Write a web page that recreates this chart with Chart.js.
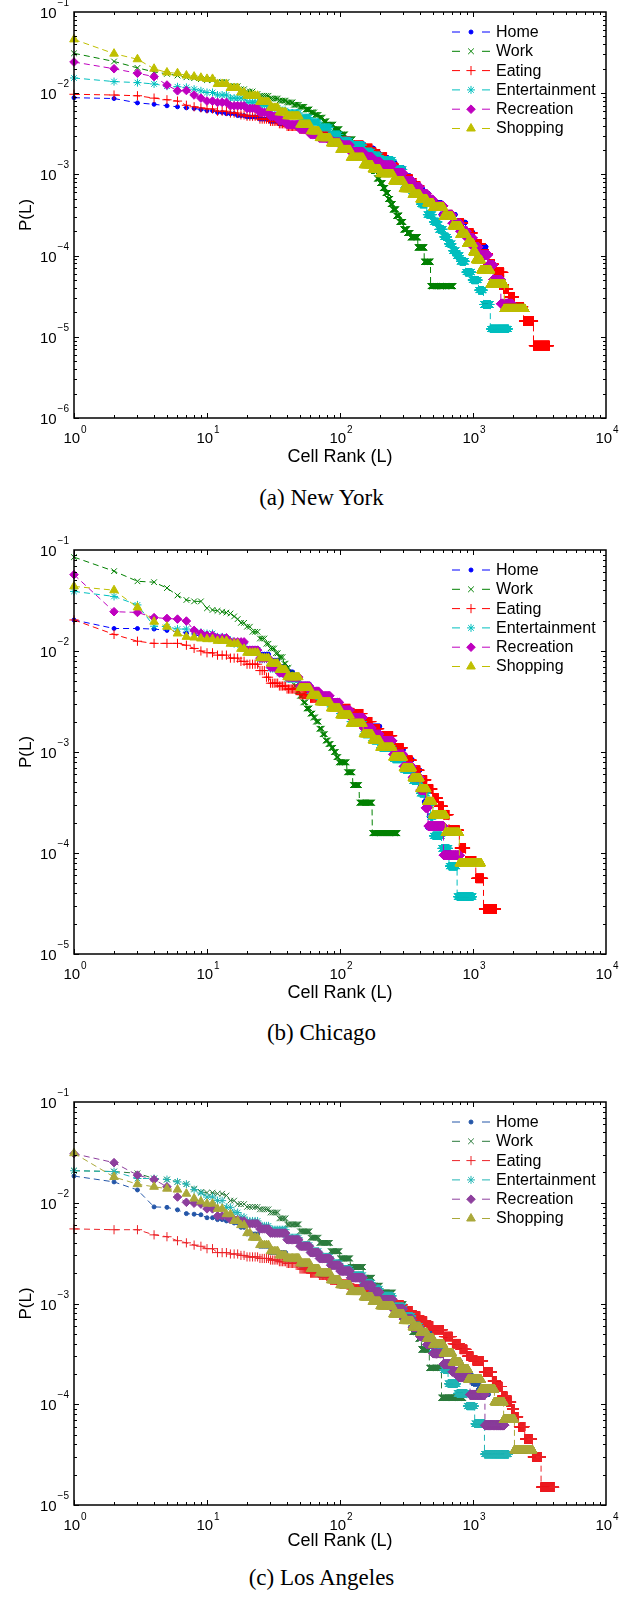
<!DOCTYPE html>
<html><head><meta charset="utf-8">
<script src="https://cdn.jsdelivr.net/npm/chart.js@4.4.0/dist/chart.umd.min.js"></script>
<style>
body{margin:0;width:643px;height:1598px;position:relative;background:#fff;overflow:hidden}
canvas{position:absolute;left:0}
.cap{position:absolute;left:0;width:643px;text-align:center;font-family:"Liberation Serif",serif;font-size:23px;line-height:24px;color:#000}
</style></head><body>
<canvas id="c1" width="643" height="480" style="top:0px"></canvas>
<canvas id="c2" width="643" height="480" style="top:530px"></canvas>
<canvas id="c3" width="643" height="480" style="top:1080px"></canvas>
<div class="cap" style="top:486px">(a) New York</div>
<div class="cap" style="top:1021px">(b) Chicago</div>
<div class="cap" style="top:1566px">(c) Los Angeles</div>
<script>
// ---------- categories & tick labels ----------
const categories = ['Home','Work','Eating','Entertainment','Recreation','Shopping'];
const xTickExp = [0,1,2,3,4];
const nyYTickExp = [-6,-5,-4,-3,-2,-1];
const chYTickExp = [-5,-4,-3,-2,-1];
const laYTickExp = [-5,-4,-3,-2,-1];

// ---------- data: [rank where value starts, P(L)] ; value holds until next rank ----------
// New York
const nyHome = [[1,.0088],[2,.0086],[3,.0076],[4,.0073],[5,.0070],[6,.0068],[7,.0066],[8,.0065],[9,.0063],[10,.0061],[12,.0058],[14,.0056],[17,.0053],[20,.0051],[25,.0048],[30,.0045],[35,.0042],[40,.0040],[50,.0037],[60,.0034],[70,.0031],[85,.0029],[100,.0027],[120,.0024],[150,.0021],[180,.0018],[200,.0016],[230,.0014],[260,.0012],[300,.00095],[340,.00078],[370,.00066],[420,.00058],[465,.00045],[575,.00032],[735,.000256],[880,.000192],[1000,.000128],[1250,.000064]];
const nyWork = [[1,.031],[2,.0246],[3,.0205],[4,.0183],[5,.0173],[6,.0165],[7,.0157],[8,.0153],[9,.0149],[10,.0145],[12,.0137],[15,.0122],[18,.0112],[20,.0105],[23,.0098],[25,.0093],[30,.0086],[35,.0081],[40,.0077],[45,.0072],[50,.0068],[55,.0063],[60,.0058],[65,.0054],[70,.0050],[75,.0045],[80,.0041],[90,.0036],[100,.0031],[110,.0027],[125,.0023],[140,.0019],[160,.0015],[170,.0013],[180,.0011],[190,.00089],[200,.00078],[210,.00068],[220,.00059],[230,.0005],[240,.00043],[250,.00037],[265,.00031],[280,.00026],[300,.00021],[320,.00019],[340,.000168],[385,.000126],[430,.000084],[480,.000042]];
const nyEating = [[1,.0097],[2,.0095],[3,.0093],[4,.0087],[5,.0083],[6,.0080],[7,.0071],[8,.0068],[9,.0066],[10,.0064],[12,.0060],[15,.0057],[18,.0054],[20,.0052],[25,.0048],[30,.0045],[35,.0042],[40,.0039],[50,.0036],[60,.0033],[70,.0031],[85,.0028],[100,.0026],[120,.0023],[150,.0021],[175,.0018],[200,.00164],[225,.0014],[250,.0012],[275,.001],[300,.00088],[350,.00072],[400,.00058],[450,.00048],[500,.00041],[600,.00032],[700,.00025],[850,.00019],[1000,.00014],[1150,.000105],[1300,.000078],[1450,.000062],[1700,.000039],[1850,.0000312],[2050,.0000234],[2400,.0000156],[2850,.0000078]];
const nyEnt = [[1,.0154],[2,.0139],[3,.0135],[4,.0130],[5,.0122],[6,.0120],[7,.0118],[8,.0112],[9,.0107],[10,.0102],[12,.0095],[15,.0087],[20,.0077],[25,.0071],[30,.0066],[35,.0061],[40,.0057],[50,.0050],[60,.0044],[70,.0038],[85,.0031],[100,.0026],[120,.0023],[150,.0019],[175,.0017],[200,.0015],[250,.00115],[300,.00075],[350,.00058],[400,.00043],[450,.00032],[500,.00026],[550,.00021],[600,.00017],[650,.00014],[700,.000115],[750,.0001],[800,.000085],[880,.0000625],[980,.00005],[1100,.0000375],[1200,.000025],[1350,.0000125]];
const nyRec = [[1,.0242],[2,.020],[3,.0176],[4,.016],[5,.0126],[6,.0107],[7,.0108],[8,.0095],[9,.0087],[10,.0080],[12,.0077],[15,.0070],[20,.0065],[25,.0058],[30,.0052],[35,.0046],[40,.0041],[50,.0036],[60,.0031],[70,.0028],[85,.0025],[100,.0023],[120,.0019],[150,.00164],[175,.00145],[200,.0013],[250,.00104],[300,.00084],[350,.0007],[400,.00058],[450,.00049],[500,.00041],[600,.00032],[700,.00025],[800,.0002],[900,.000165],[1000,.000128],[1100,.000102],[1300,.0000765],[1420,.000051],[1620,.0000255]];
const nyShop = [[1,.046],[2,.0307],[3,.0262],[4,.020],[5,.018],[6,.0176],[7,.0165],[8,.016],[9,.0155],[10,.015],[12,.013],[15,.0116],[18,.0102],[20,.0093],[25,.0078],[30,.0066],[35,.0058],[40,.0052],[50,.0041],[60,.0034],[70,.0028],[85,.0024],[100,.0020],[120,.0016],[150,.0013],[175,.00115],[200,.00101],[250,.00082],[300,.00066],[350,.00056],[400,.00049],[450,.00044],[500,.00039],[600,.0003],[700,.00023],[800,.00018],[900,.00014],[1000,.00011],[1050,.000088],[1150,.000066],[1350,.000044],[1720,.000022]];
const nyLastRank = [1560, 710, 3750, 1850, 1980, 2450];

// Chicago
const chHome = [[1,.0203],[2,.0167],[3,.0167],[4,.0165],[5,.016],[6,.0155],[7,.015],[8,.0145],[9,.014],[10,.0135],[12,.0128],[15,.0118],[20,.0106],[25,.0093],[30,.0081],[35,.0070],[40,.0062],[45,.0052],[50,.0047],[60,.0040],[70,.0034],[85,.0030],[100,.0026],[120,.0022],[150,.0018],[200,.00133],[250,.00105],[300,.00084],[350,.00066],[400,.00045],[430,.00032],[455,.00018]];
const chWork = [[1,.085],[2,.0617],[3,.049],[4,.048],[5,.042],[6,.0355],[7,.032],[8,.031],[9,.031],[10,.0265],[11,.0255],[12,.025],[13,.0245],[14,.024],[15,.0235],[16,.022],[17,.0207],[18,.019],[20,.0174],[22,.0155],[25,.0133],[28,.0118],[30,.0106],[33,.0095],[35,.0087],[38,.0075],[40,.0068],[42,.0060],[44,.0052],[46,.0045],[48,.0040],[50,.0036],[53,.0031],[56,.0027],[60,.0024],[63,.0022],[66,.0020],[70,.0017],[74,.0015],[78,.0013],[82,.0012],[86,.0011],[90,.001],[94,.00089],[98,.00079],[113,.00063],[125,.00047],[140,.000315],[175,.000157]];
const chEating = [[1,.0203],[2,.0146],[3,.0125],[4,.0119],[5,.0119],[6,.0119],[7,.0114],[8,.0106],[9,.0100],[10,.0096],[12,.0091],[15,.0085],[18,.0079],[20,.0074],[25,.0064],[28,.0055],[30,.0048],[35,.0045],[40,.0042],[50,.0037],[60,.0034],[70,.0032],[85,.0029],[100,.0027],[120,.0024],[150,.0020],[175,.0017],[200,.00145],[250,.0011],[300,.00083],[350,.00066],[400,.00053],[450,.00043],[500,.00035],[550,.00029],[600,.00024],[660,.000168],[790,.000112],[880,.000084],[1050,.000056],[1200,.000028]];
const chEnt = [[1,.0389],[2,.0347],[3,.0286],[4,.0176],[5,.0174],[6,.0165],[7,.0165],[8,.0157],[9,.0153],[10,.0149],[12,.0138],[14,.0128],[16,.0118],[20,.0102],[25,.0083],[30,.0067],[35,.0060],[40,.0053],[50,.0044],[60,.0038],[70,.0033],[85,.0028],[100,.0024],[120,.0020],[150,.0015],[175,.0013],[200,.0011],[250,.00085],[300,.00067],[350,.00052],[400,.00039],[450,.00030],[480,.00023],[500,.000148],[580,.000111],[660,.000074],[760,.000037]];
const chRec = [[1,.057],[2,.0245],[3,.0241],[4,.0214],[5,.021],[6,.0207],[7,.0198],[8,.0160],[9,.0150],[10,.0143],[12,.0135],[15,.0123],[20,.0102],[25,.0085],[30,.0069],[35,.0061],[40,.0055],[50,.0045],[60,.0040],[70,.0036],[85,.0031],[100,.0026],[120,.0022],[150,.00173],[175,.0015],[200,.00129],[250,.00095],[300,.00072],[350,.00056],[400,.00042],[440,.00028],[460,.000185],[600,.000095]];
const chShop = [[1,.0436],[2,.040],[3,.027],[4,.0195],[5,.0174],[6,.0149],[7,.0138],[8,.0136],[9,.0133],[10,.0131],[12,.0126],[15,.0118],[18,.0105],[20,.0096],[25,.0085],[30,.0075],[35,.0065],[40,.0055],[50,.0043],[60,.0036],[70,.0031],[85,.0027],[100,.0023],[120,.0019],[150,.0015],[175,.0013],[200,.0011],[250,.00088],[300,.00069],[350,.00055],[400,.00043],[450,.00032],[500,.000237],[620,.000158],[790,.000079]];
const chLastRank = [530, 270, 1500, 1000, 800, 1150];

// Los Angeles
const laHome = [[1,.0184],[2,.0161],[3,.0134],[4,.0091],[5,.0090],[6,.0085],[7,.0078],[8,.0077],[9,.0076],[10,.0071],[12,.0068],[14,.0066],[16,.0063],[18,.0057],[20,.0049],[25,.0037],[30,.0032],[40,.0027],[50,.0024],[60,.0021],[70,.0019],[85,.0017],[100,.0015],[120,.0013],[150,.00113],[200,.00095],[250,.00092],[300,.00072],[400,.00053],[500,.00041],[600,.00033],[700,.00027],[800,.00023],[900,.00019],[1000,.00016],[1100,.00014],[1200,.000125]];
const laWork = [[1,.0208],[2,.0204],[3,.0196],[4,.0174],[5,.0170],[6,.0161],[7,.0153],[8,.0138],[9,.0128],[10,.0126],[12,.0123],[14,.0118],[15,.0105],[17,.0097],[20,.0091],[25,.0086],[30,.0080],[35,.0070],[40,.0061],[50,.0052],[60,.0045],[70,.0040],[85,.0033],[100,.0028],[120,.0023],[150,.0018],[175,.0015],[200,.00128],[250,.00098],[300,.00068],[350,.00052],[390,.00045],[410,.00035],[470,.00023],[580,.000116]];
const laEating = [[1,.0055],[2,.0054],[3,.0054],[4,.0048],[5,.0046],[6,.0042],[7,.0040],[8,.0038],[9,.0037],[10,.0035],[12,.0032],[15,.0031],[18,.0030],[20,.0029],[25,.0028],[30,.0027],[35,.0026],[40,.0025],[50,.0022],[60,.0020],[70,.0019],[85,.0017],[100,.00156],[120,.0014],[150,.00129],[175,.0012],[200,.0011],[250,.00097],[300,.00085],[350,.00075],[400,.00067],[450,.0006],[500,.00055],[600,.00047],[700,.0004],[800,.00035],[900,.0003],[1000,.00027],[1200,.00021],[1400,.00017],[1500,.00015],[1650,.00012],[1800,.000105],[1950,.00009],[2050,.000075],[2200,.00006],[2450,.000045],[2800,.00003],[3250,.000015]];
const laEnt = [[1,.0208],[2,.0204],[3,.0174],[4,.0174],[5,.017],[6,.0161],[7,.0153],[8,.0135],[9,.0125],[10,.0114],[12,.0105],[14,.0090],[16,.0080],[18,.0072],[20,.0066],[25,.0059],[30,.0054],[40,.0045],[50,.0038],[60,.0033],[70,.0029],[85,.0025],[100,.0022],[120,.0019],[150,.0016],[175,.0014],[200,.00119],[250,.00093],[300,.00075],[350,.0006],[400,.00049],[450,.0004],[500,.00034],[600,.00022],[650,.00016],[760,.000128],[900,.000096],[1030,.000064],[1220,.000032]];
const laRec = [[1,.0307],[2,.025],[3,.0188],[4,.0170],[5,.0144],[6,.0114],[7,.0101],[8,.0099],[9,.0097],[10,.0087],[12,.0074],[15,.0068],[18,.0066],[20,.0062],[25,.0055],[30,.0050],[40,.0043],[50,.0037],[60,.0032],[70,.0028],[85,.0024],[100,.0021],[120,.0018],[150,.00152],[175,.0013],[200,.0011],[250,.00088],[300,.0007],[350,.00058],[400,.00047],[450,.00039],[500,.00032],[600,.00025],[700,.00021],[780,.000186],[950,.000124],[1230,.000062]];
const laShop = [[1,.031],[2,.018],[3,.0153],[4,.0144],[5,.0138],[6,.0135],[7,.0123],[8,.011],[9,.0103],[10,.0098],[12,.0087],[14,.0077],[16,.0066],[18,.0060],[20,.0050],[22,.0045],[25,.0038],[30,.0033],[35,.0030],[40,.0028],[50,.0025],[60,.0022],[70,.0020],[85,.0017],[100,.00152],[120,.0013],[150,.00115],[175,.00104],[200,.00094],[250,.00078],[300,.00067],[350,.00058],[400,.00051],[450,.00045],[500,.00039],[600,.00032],[700,.00026],[800,.00022],[920,.000175],[1150,.00014],[1450,.000105],[1700,.00007],[2050,.000035]];
const laLastRank = [1300, 840, 4100, 1850, 1720, 2800];

// ---------- styles ----------
const stdColors = ['#0000ff','#008000','#ff0000','#00bfbf','#bf00bf','#bfbf00'];
const laColors  = ['#2456a8','#2a7a3b','#ec2227','#22b5b5','#8d3f9d','#aaa83a'];
const markers = [
  {ps:'circle',   r:2,   bw:1},
  {ps:'crossRot', r:4,   bw:1},
  {ps:'cross',    r:4.6, bw:1},
  {ps:'star',     r:4,   bw:1},
  {ps:'rectRot',  r:4.3, bw:1},
  {ps:'triangle', r:5,   bw:1}
];
const FONT = '"Liberation Sans", Arial, sans-serif';

function expand(steps, last){
  const out=[];
  for(let i=0;i<steps.length;i++){
    const from=steps[i][0], to=(i+1<steps.length)?steps[i+1][0]-1:last;
    for(let L=from;L<=to;L++) out.push({x:L,y:steps[i][1]});
  }
  return out;
}

function drawPow(ctx, exp, x, base, align){
  const b='10', e=(exp<0?'\u2212':'')+Math.abs(exp);
  ctx.font='15px '+FONT; const wb=ctx.measureText(b).width;
  ctx.font='10px '+FONT; const we=ctx.measureText(e).width;
  const tot=wb+1+we;
  const x0 = align==='center' ? x-tot/2 : x-tot;
  ctx.textAlign='left'; ctx.textBaseline='alphabetic';
  ctx.font='15px '+FONT; ctx.fillText(b,x0,base);
  ctx.font='10px '+FONT; ctx.fillText(e,x0+wb+1, align==='center'? base-10.5 : base-12);
}

const matlab = {
  id:'matlab',
  afterDraw(chart, args, o){
    const ctx=chart.ctx, a=chart.chartArea, xs=chart.scales.x, ys=chart.scales.y;
    ctx.save();
    ctx.strokeStyle='#000'; ctx.lineWidth=1;
    ctx.beginPath();
    for(let e=xTickExp[0]; e<xTickExp[xTickExp.length-1]; e++){
      for(let m=1;m<=9;m++){
        const px=Math.round(xs.getPixelForValue(m*Math.pow(10,e)))+0.5;
        const len=(m===1)?5:3;
        ctx.moveTo(px,a.bottom); ctx.lineTo(px,a.bottom-len);
        ctx.moveTo(px,a.top); ctx.lineTo(px,a.top+len);
      }
    }
    const yt=o.yTicks;
    for(let e=yt[0]; e<yt[yt.length-1]; e++){
      for(let m=1;m<=9;m++){
        const py=Math.round(ys.getPixelForValue(m*Math.pow(10,e)))+0.5;
        const len=(m===1)?5:3;
        ctx.moveTo(a.left,py); ctx.lineTo(a.left+len,py);
        ctx.moveTo(a.right,py); ctx.lineTo(a.right-len,py);
      }
    }
    ctx.stroke();
    ctx.lineWidth=1.5;
    ctx.strokeRect(a.left,a.top,a.right-a.left,a.bottom-a.top);
    // tick labels
    ctx.fillStyle='#000';
    xTickExp.forEach(e=>{
      const px=xs.getPixelForValue(Math.pow(10,e));
      drawPow(ctx,e,px+1,a.bottom+25,'center');
    });
    yt.forEach(e=>{
      const py=ys.getPixelForValue(Math.pow(10,e));
      drawPow(ctx,e,a.left-5,py+6,'right');
    });
    // axis titles
    ctx.font='18px '+FONT; ctx.textAlign='center'; ctx.textBaseline='middle';
    ctx.fillText('Cell Rank (L)',(a.left+a.right)/2,a.bottom+o.xTitleOff);
    ctx.save();
    ctx.translate(26,(a.top+a.bottom)/2); ctx.rotate(-Math.PI/2);
    ctx.font='17px '+FONT; ctx.fillText('P(L)',0,0);
    ctx.restore();
    // legend
    const cols=o.colors;
    categories.forEach((c,i)=>{
      const yy=a.top+20+i*19.3;
      const x0=a.left+378;
      ctx.strokeStyle=cols[i]; ctx.fillStyle=cols[i]; ctx.lineWidth=1;
      ctx.beginPath();
      ctx.moveTo(x0,yy); ctx.lineTo(x0+8,yy);
      ctx.moveTo(x0+30,yy); ctx.lineTo(x0+38,yy);
      ctx.stroke();
      Chart.helpers.drawPoint(ctx,{pointStyle:markers[i].ps,radius:markers[i].r,borderWidth:markers[i].bw,rotation:0},x0+19,yy);
      ctx.fillStyle='#000'; ctx.font='16px '+FONT; ctx.textAlign='left'; ctx.textBaseline='middle';
      ctx.fillText(c,x0+44,yy+0.5);
    });
    ctx.restore();
  }
};

function makeChart(id, series, lasts, colors, yTicks, pad, xTitleOff){
  const datasets=series.map((s,i)=>({
    label:categories[i],
    data:expand(s,lasts[i]),
    showLine:true,
    borderColor:colors[i],
    backgroundColor:colors[i],
    borderWidth:1,
    borderDash:[6,4],
    pointStyle:markers[i].ps,
    pointRadius:markers[i].r,
    pointBorderWidth:markers[i].bw,
    pointBackgroundColor:colors[i],
    pointBorderColor:colors[i],
    pointHoverRadius:markers[i].r,
    fill:false,
    tension:0,
    clip:false,
    order:5-i
  }));
  return new Chart(document.getElementById(id),{
    type:'scatter',
    data:{datasets},
    options:{
      responsive:false, animation:false, devicePixelRatio:1, events:[],
      layout:{padding:pad},
      parsing:false, normalized:true,
      scales:{
        x:{type:'logarithmic',min:1,max:10000,display:false},
        y:{type:'logarithmic',min:Math.pow(10,yTicks[0]),max:Math.pow(10,yTicks[yTicks.length-1]),display:false}
      },
      plugins:{legend:{display:false},tooltip:{enabled:false},matlab:{colors,yTicks,xTitleOff}}
    },
    plugins:[matlab]
  });
}

makeChart('c1',[nyHome,nyWork,nyEating,nyEnt,nyRec,nyShop],nyLastRank,stdColors,nyYTickExp,{left:74,right:37,top:12,bottom:62},39);
makeChart('c2',[chHome,chWork,chEating,chEnt,chRec,chShop],chLastRank,stdColors,chYTickExp,{left:74,right:37,top:20,bottom:56},39);
makeChart('c3',[laHome,laWork,laEating,laEnt,laRec,laShop],laLastRank,laColors,laYTickExp,{left:74,right:37,top:22,bottom:55},36);
</script>
</body></html>
